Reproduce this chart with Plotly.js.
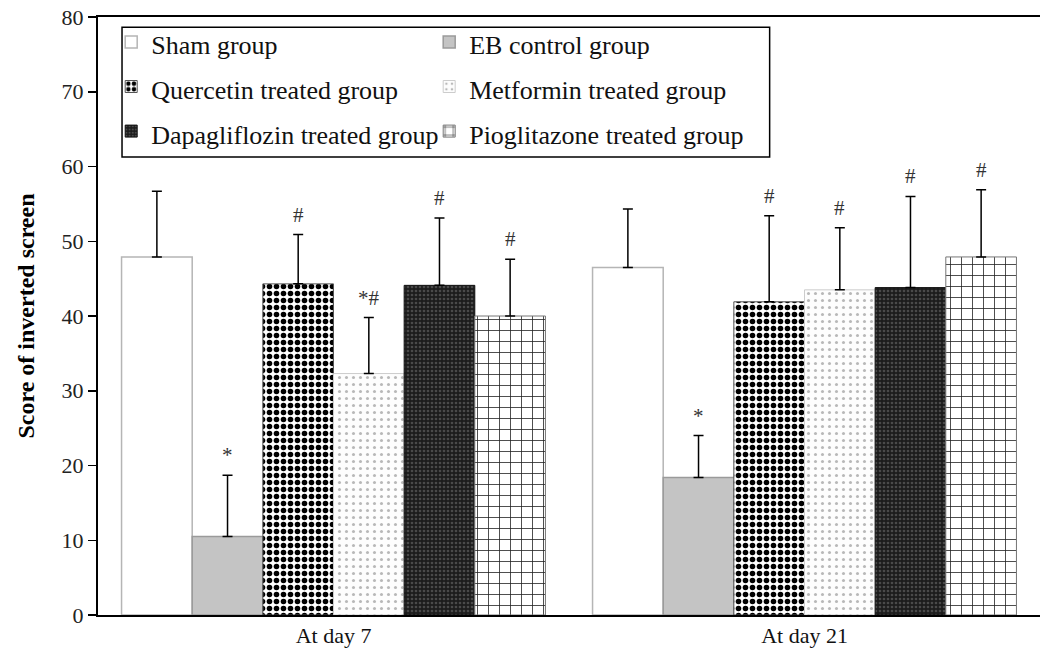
<!DOCTYPE html>
<html>
<head>
<meta charset="utf-8">
<script src="https://cdn.plot.ly/plotly-3.0.1.min.js"></script>
<style>html,body{margin:0;padding:0;background:#fff;}#chart{width:1040px;height:657px;}</style>
</head>
<body>
<div id="chart"></div>
<script>
var categories = ["At day 7", "At day 21"];
var groupNames = ["Sham group", "EB control group", "Quercetin treated group", "Metformin treated group", "Dapagliflozin treated group", "Pioglitazone treated group"];
var shamVals = [47.9, 46.5];
var ebVals = [10.5, 18.4];
var quercetinVals = [44.3, 41.9];
var metforminVals = [32.3, 43.5];
var dapaVals = [44.1, 43.8];
var pioVals = [40.0, 47.9];
var shamErr = [8.8, 7.8];
var ebErr = [8.2, 5.6];
var quercetinErr = [6.6, 11.5];
var metforminErr = [7.5, 8.3];
var dapaErr = [9.0, 12.2];
var pioErr = [7.6, 9.0];
var shamSig = ["", ""];
var ebSig = ["*", "*"];
var quercetinSig = ["#", "#"];
var metforminSig = ["*#", "#"];
var dapaSig = ["#", "#"];
var pioSig = ["#", "#"];

var values = [shamVals, ebVals, quercetinVals, metforminVals, dapaVals, pioVals];
var errors = [shamErr, ebErr, quercetinErr, metforminErr, dapaErr, pioErr];
var sigs = [shamSig, ebSig, quercetinSig, metforminSig, dapaSig, pioSig];

var serif = "Liberation Serif, Times New Roman, serif";

var markers = [
  {color: "#ffffff", line: {color: "#b5b5b5", width: 1.5}},
  {color: "#c4c4c4", line: {color: "#9a9a9a", width: 1.5}},
  {color: "#ffffff", line: {color: "#555", width: 1}, pattern: {shape: ".", fgcolor: "#000", bgcolor: "#fff", size: 7, solidity: 0.5, fillmode: "replace"}},
  {color: "#ffffff", line: {color: "#ccc", width: 1}, pattern: {shape: ".", fgcolor: "#b8b8b8", bgcolor: "#fdfdfd", size: 7, solidity: 0.15, fillmode: "replace"}},
  {color: "#1c1c1c", line: {color: "#111", width: 1}, pattern: {shape: ".", fgcolor: "#4a4a4a", bgcolor: "#1c1c1c", size: 4, solidity: 0.35, fillmode: "replace"}},
  {color: "#ffffff", line: {color: "#777", width: 1}, pattern: {shape: "+", fgcolor: "#222", bgcolor: "#fff", size: 11, solidity: 0.14, fillmode: "replace"}}
];

var traces = [];
for (var i = 0; i < groupNames.length; i++) {
  traces.push({
    type: "bar",
    name: '<span style="font-size:26px">' + groupNames[i] + '</span>',
    x: categories,
    y: values[i],
    marker: markers[i],
    error_y: {type: "data", symmetric: false, array: errors[i], arrayminus: values[i].map(function(){return 0;}), color: "#000", thickness: 1.5, width: 5}
  });
}

var bargap = 0.1;
var nG = groupNames.length;
var bw = (1 - bargap) / nG;
var annotations = [];
for (var g = 0; g < nG; g++) {
  for (var c = 0; c < categories.length; c++) {
    if (!sigs[g][c]) continue;
    annotations.push({
      xref: "x", yref: "y",
      x: c - (1 - bargap) / 2 + bw * (g + 0.5),
      y: values[g][c] + errors[g][c],
      text: sigs[g][c],
      showarrow: false,
      yanchor: "bottom",
      yshift: 6,
      font: {family: serif, size: 21, color: "#333"}
    });
  }
}

var layout = {
  width: 1040, height: 657,
  margin: {l: 98, r: 0, t: 17, b: 42},
  paper_bgcolor: "#fff", plot_bgcolor: "#fff",
  barmode: "group",
  bargap: bargap,
  bargroupgap: 0,
  showlegend: true,
  legend: {
    orientation: "h",
    x: 0.014, y: 1.004, xanchor: "left", yanchor: "top",
    bgcolor: "rgba(0,0,0,0)", borderwidth: 0,
    entrywidth: 273, entrywidthmode: "pixels",
    font: {family: serif, size: 32, color: "#111"},
    itemwidth: 30,
    traceorder: "normal"
  },
  shapes: [{
    type: "rect", xref: "paper", yref: "paper",
    x0: 0.0255, x1: 0.713, y0: 0.766, y1: 0.983,
    line: {color: "#000", width: 1.5}, fillcolor: "#fff", layer: "below"
  }],
  xaxis: {
    type: "category",
    showline: true, linecolor: "#000", linewidth: 2, mirror: true,
    ticks: "", showgrid: false,
    tickfont: {family: serif, size: 22, color: "#111"}
  },
  yaxis: {
    range: [0, 80], dtick: 10, tick0: 0,
    showline: true, linecolor: "#000", linewidth: 2,
    ticks: "outside", ticklen: 8, tickwidth: 1.5, tickcolor: "#000",
    showgrid: false, zeroline: false,
    tickfont: {family: serif, size: 22, color: "#222"},
    title: {text: "Score of inverted screen", standoff: 20, font: {family: serif, size: 24, color: "#000", weight: "bold"}}
  },
  annotations: annotations
};

Plotly.newPlot("chart", traces, layout, {displayModeBar: false, staticPlot: true});
</script>
</body>
</html>
